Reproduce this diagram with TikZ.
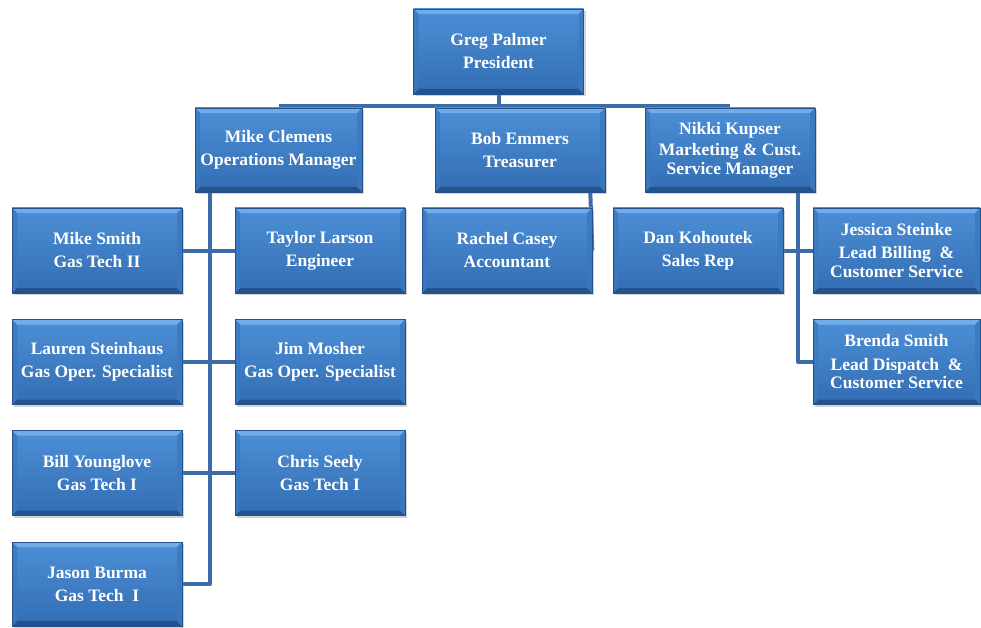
\documentclass[tikz,border=0pt]{standalone}
\usepackage{fontspec}
\setmainfont{Liberation Serif}
\usetikzlibrary{calc,shadows,backgrounds}
\definecolor{boxtop}{HTML}{4C8FD6}
\definecolor{boxbot}{HTML}{336DB3}
\definecolor{bevlight}{HTML}{72ACE8}
\definecolor{bevdark}{HTML}{24528C}
\definecolor{bevside}{HTML}{3A78C0}
\definecolor{linkcol}{HTML}{3C6CA6}
\tikzset{
  orgbox/.style={rectangle, minimum width=170pt, minimum height=85pt, inner sep=2pt,
    top color=boxtop, bottom color=boxbot, draw=bevdark, line width=0.6pt,
    text=white, font=\bfseries\fontsize{17.5}{23}\selectfont, align=center,
    drop shadow={shadow xshift=2pt, shadow yshift=-2pt, opacity=0.35},
    path picture={
      \fill[bevlight] (path picture bounding box.north west) -- (path picture bounding box.north east)
        -- ([xshift=-5pt,yshift=-5pt]path picture bounding box.north east)
        -- ([xshift=5pt,yshift=-5pt]path picture bounding box.north west) -- cycle;
      \fill[bevdark] (path picture bounding box.south west) -- (path picture bounding box.south east)
        -- ([xshift=-5pt,yshift=5pt]path picture bounding box.south east)
        -- ([xshift=5pt,yshift=5pt]path picture bounding box.south west) -- cycle;
      \fill[bevside,opacity=0.8] (path picture bounding box.north east) -- (path picture bounding box.south east)
        -- ([xshift=-5pt,yshift=5pt]path picture bounding box.south east)
        -- ([xshift=-5pt,yshift=-5pt]path picture bounding box.north east) -- cycle;
      \fill[bevside,opacity=0.8] (path picture bounding box.north west) -- (path picture bounding box.south west)
        -- ([xshift=5pt,yshift=5pt]path picture bounding box.south west)
        -- ([xshift=5pt,yshift=-5pt]path picture bounding box.north west) -- cycle;
    }},
  tight/.style={font=\bfseries\fontsize{17.5}{18.5}\selectfont},
  link/.style={draw=linkcol, line width=4pt, line join=round}
}
\begin{document}
\begin{tikzpicture}[x=1pt,y=-1pt]
\useasboundingbox (0,0) rectangle (981,628);
\node[orgbox] (greg) at (498.5,51.5) {Greg Palmer\\President};
\node[orgbox, minimum width=167pt, minimum height=84pt] (mc) at (278.5,150) {Mike Clemens\\Operations Manager};
\node[orgbox, minimum height=84pt] (bob) at (520,150) {Bob Emmers\\Treasurer};
\node[orgbox, minimum height=84pt, tight] (nk) at (730,150) {Nikki Kupser\\[3pt]Marketing \& Cust.\\Service Manager};
\node[orgbox] (ms) at (97,250.5) {Mike Smith\\Gas Tech II};
\node[orgbox] (tl) at (320,250.5) {Taylor Larson\\Engineer};
\node[orgbox] (rc) at (507,250.5) {Rachel Casey\\Accountant};
\node[orgbox] (dk) at (698,250.5) {Dan Kohoutek\\Sales Rep};
\node[orgbox, minimum width=167pt, tight] (js) at (896.5,250.5) {Jessica Steinke\\[5pt]Lead Billing~~\&\\Customer Service};
\node[orgbox] (ls) at (97,362) {Lauren Steinhaus\\Gas Oper. Specialist};
\node[orgbox] (jm) at (320,362) {Jim Mosher\\Gas Oper. Specialist};
\node[orgbox, minimum width=167pt, tight] (bs) at (896.5,362) {Brenda Smith\\[5pt]Lead Dispatch~~\&\\Customer Service};
\node[orgbox] (by) at (97,473) {Bill Younglove\\Gas Tech I};
\node[orgbox] (cs) at (320,473) {Chris Seely\\Gas Tech I};
\node[orgbox, minimum height=84pt] (jb) at (97,584) {Jason Burma\\Gas Tech~~I};
\begin{scope}[on background layer]
  \coordinate (gbar) at ($(greg.south)+(0,12)$);
  \draw[link] (greg.south) -- (gbar);
  \draw[link] ($(mc.north)+(0,-2)$) -- ($(nk.north)+(0,-2)$);
  \coordinate (mcs) at ($(mc.south west)+(15.5,0)$);
  \draw[link] (mcs) |- (jb.east);
  \draw[link] (ms.east) -- (tl.west);
  \draw[link] (ls.east) -- (jm.west);
  \draw[link] (by.east) -- (cs.west);
  \coordinate (bobs) at ($(bob.south east)+(-15,0)$);
  \draw[link] (bobs) -- (rc.east);
  \coordinate (nks) at ($(nk.south east)+(-17,0)$);
  \draw[link] (nks) |- (bs.west);
  \draw[link] (dk.east) -- (js.west);
\end{scope}
\end{tikzpicture}
\end{document}
